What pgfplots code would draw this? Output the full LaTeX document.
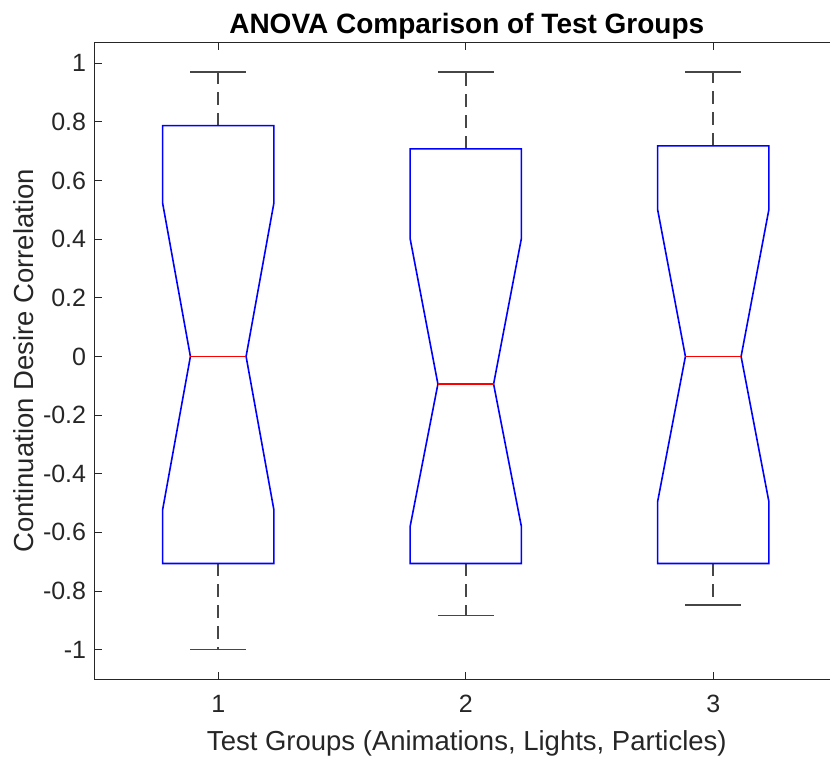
\documentclass[border=0pt]{standalone}
\usepackage{fontspec}
\setmainfont{Liberation Sans}
\usepackage{pgfplots}
\pgfplotsset{compat=1.18}
\definecolor{axgray}{RGB}{38,38,38}
\definecolor{wgray}{RGB}{70,70,70}
\begin{document}
\begin{tikzpicture}
\begin{axis}[
  name=ax,
  scale only axis,
  width=367.75pt, height=318.15pt,
  xmin=0.5, xmax=3.4717, ymin=-1.1, ymax=1.07,
  axis line style={draw=none},
  tick style={axgray, line width=0.5pt},
  major tick length=3.7pt,
  tick align=inside,
  xtick pos=both, ytick pos=left,
  xtick={1,2,3}, xticklabels={1,2,3},
  ytick={-1,-0.8,-0.6,-0.4,-0.2,0,0.2,0.4,0.6,0.8,1},
  yticklabels={-1,-0.8,-0.6,-0.4,-0.2,0,0.2,0.4,0.6,0.8,1},
  minor tick num=0,
  ticklabel style={font=\fontsize{12.5}{15}\selectfont, text=axgray, inner sep=0pt},
  xticklabel style={anchor=base, yshift=-16.5pt},
  yticklabel style={anchor=east, xshift=-4pt},
  title={ANOVA Comparison of Test Groups},
  title style={font=\fontsize{14}{16}\selectfont\bfseries, text=black, at={(axis description cs:0.5062,1)}, anchor=base, yshift=-1.5pt, inner sep=0pt},
  xlabel={Test Groups (Animations, Lights, Particles)},
  xlabel style={font=\fontsize{13.75}{16}\selectfont, text=axgray, at={(axis description cs:0.5062,-0.1116)}, anchor=base, inner sep=0pt},
  ylabel={Continuation Desire Correlation},
  ylabel style={font=\fontsize{13.75}{16}\selectfont, text=axgray, at={(axis description cs:-0.0836,0.5)}, anchor=base, inner sep=0pt},
  clip=false,
]
% axis frame (right edge falls outside the picture in the reference)
\draw[axgray, line width=0.5pt] (rel axis cs:1,0) -- (rel axis cs:0,0) -- (rel axis cs:0,1) -- (rel axis cs:1,1);
% whiskers (dashed)
\addplot[wgray, line width=0.8pt, dash pattern=on 6.5pt off 4pt] coordinates {(1,0.787) (1,0.970)};
\addplot[wgray, line width=0.8pt, dash pattern=on 6.5pt off 4pt] coordinates {(1,-0.706) (1,-1.000)};
\addplot[wgray, line width=0.8pt, dash pattern=on 6.5pt off 4pt] coordinates {(2,0.708) (2,0.970)};
\addplot[wgray, line width=0.8pt, dash pattern=on 6.5pt off 4pt] coordinates {(2,-0.706) (2,-0.883)};
\addplot[wgray, line width=0.8pt, dash pattern=on 6.5pt off 4pt] coordinates {(3,0.718) (3,0.970)};
\addplot[wgray, line width=0.8pt, dash pattern=on 6.5pt off 4pt] coordinates {(3,-0.706) (3,-0.848)};
% caps
\addplot[wgray, line width=0.8pt] coordinates {(0.8875,0.970) (1.1125,0.970)};
\addplot[wgray, line width=0.8pt] coordinates {(0.8875,-1.000) (1.1125,-1.000)};
\addplot[wgray, line width=0.8pt] coordinates {(1.8875,0.970) (2.1125,0.970)};
\addplot[wgray, line width=0.8pt] coordinates {(1.8875,-0.883) (2.1125,-0.883)};
\addplot[wgray, line width=0.8pt] coordinates {(2.8875,0.970) (3.1125,0.970)};
\addplot[wgray, line width=0.8pt] coordinates {(2.8875,-0.848) (3.1125,-0.848)};
% notched boxes
\addplot[blue, line width=0.8pt] coordinates {(0.775,-0.706) (0.775,-0.524) (0.8875,0) (0.775,0.524) (0.775,0.787) (1.225,0.787) (1.225,0.524) (1.1125,0) (1.225,-0.524) (1.225,-0.706)} -- cycle;
\addplot[blue, line width=0.8pt] coordinates {(1.775,-0.706) (1.775,-0.581) (1.8875,-0.094) (1.775,0.403) (1.775,0.708) (2.225,0.708) (2.225,0.403) (2.1125,-0.094) (2.225,-0.581) (2.225,-0.706)} -- cycle;
\addplot[blue, line width=0.8pt] coordinates {(2.775,-0.706) (2.775,-0.496) (2.8875,0) (2.775,0.502) (2.775,0.718) (3.225,0.718) (3.225,0.502) (3.1125,0) (3.225,-0.496) (3.225,-0.706)} -- cycle;
% medians
\addplot[red, line width=0.8pt] coordinates {(0.8875,0) (1.1125,0)};
\addplot[red, line width=0.8pt] coordinates {(1.8875,-0.094) (2.1125,-0.094)};
\addplot[red, line width=0.8pt] coordinates {(2.8875,0) (3.1125,0)};
\end{axis}
\pgfresetboundingbox
\path[use as bounding box] ([xshift=-47.25pt,yshift=-38.5pt]ax.south west) rectangle ([yshift=21.35pt]ax.north east);
\end{tikzpicture}
\end{document}
